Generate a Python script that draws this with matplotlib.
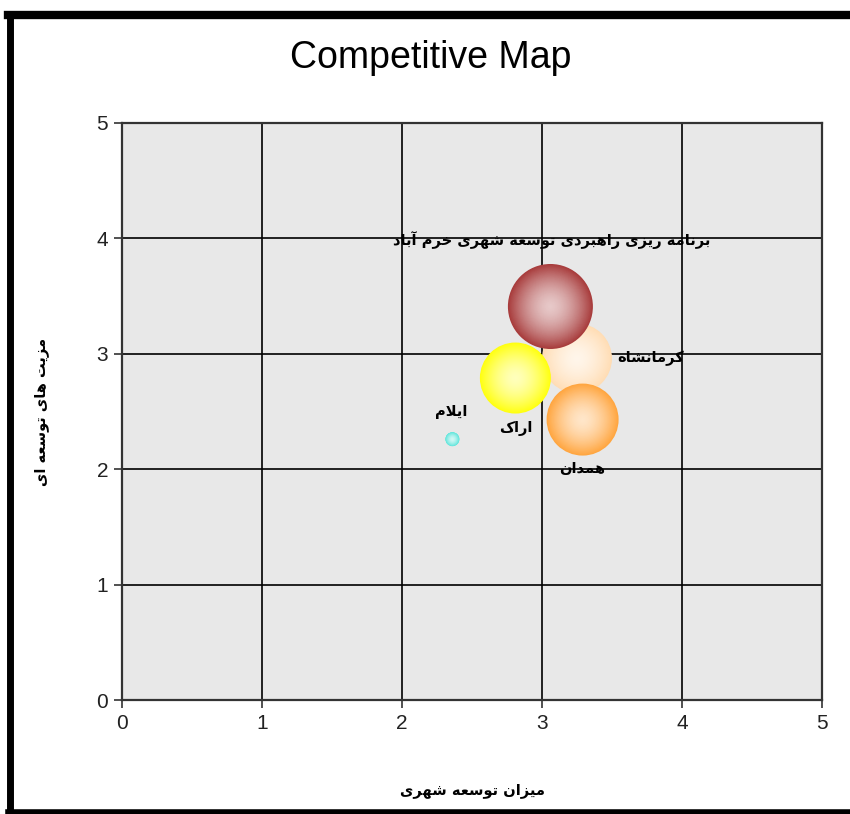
import numpy as np
import matplotlib
matplotlib.use("Agg")
import matplotlib.pyplot as plt
from matplotlib.lines import Line2D
from matplotlib.colors import to_rgb

# data
names = ["کرمانشاه", "اراک", "همدان", "برنامه ریزی راهبردی توسعه شهری خرم آباد", "ایلام"]
x_vals = [3.25, 2.81, 3.29, 3.06, 2.36]
y_vals = [2.96, 2.79, 2.43, 3.41, 2.26]
sizes = [35, 35.5, 36, 42.5, 7]
colors = ["#FFDDB5", "#FFFF10", "#FFA640", "#A83C3C", "#5EE6DC"]
# label offsets in points (dx, dy)
offsets = [(53, 0), (0, -36), (0, -35), (1, 48), (-1, 20)]

ticks = [0, 1, 2, 3, 4, 5]
title = "Competitive Map"
xlabel = "میزان توسعه شهری"
ylabel = "مزیت های توسعه ای"

# minimal arabic/persian shaping (matplotlib has no shaper)
FORMS = {
    "ا": ("\uFE8D", "\uFE8E", None, None),
    "آ": ("\uFE81", "\uFE82", None, None),
    "ب": ("\uFE8F", "\uFE90", "\uFE91", "\uFE92"),
    "ت": ("\uFE95", "\uFE96", "\uFE97", "\uFE98"),
    "خ": ("\uFEA5", "\uFEA6", "\uFEA7", "\uFEA8"),
    "د": ("\uFEA9", "\uFEAA", None, None),
    "ر": ("\uFEAD", "\uFEAE", None, None),
    "ز": ("\uFEAF", "\uFEB0", None, None),
    "س": ("\uFEB1", "\uFEB2", "\uFEB3", "\uFEB4"),
    "ش": ("\uFEB5", "\uFEB6", "\uFEB7", "\uFEB8"),
    "ع": ("\uFEC9", "\uFECA", "\uFECB", "\uFECC"),
    "ل": ("\uFEDD", "\uFEDE", "\uFEDF", "\uFEE0"),
    "م": ("\uFEE1", "\uFEE2", "\uFEE3", "\uFEE4"),
    "ن": ("\uFEE5", "\uFEE6", "\uFEE7", "\uFEE8"),
    "ه": ("\uFEE9", "\uFEEA", "\uFEEB", "\uFEEC"),
    "و": ("\uFEED", "\uFEEE", None, None),
    "ی": ("\uFEEF", "\uFEF0", "\uFEF3", "\uFEF4"),
    "ک": ("\uFB8E", "\uFB8F", "\uFB90", "\uFB91"),
}
LAM_ALEF = {"ا": ("\uFEFB", "\uFEFC"), "آ": ("\uFEF5", "\uFEF6")}


def joins_fwd(c):
    return c in FORMS and FORMS[c][2] is not None


def shape(text):
    out = []
    i, n = 0, len(text)
    while i < n:
        c = text[i]
        if c not in FORMS:
            out.append(c)
            i += 1
            continue
        jp = i > 0 and joins_fwd(text[i - 1])
        if c == "ل" and i + 1 < n and text[i + 1] in LAM_ALEF:
            lig = LAM_ALEF[text[i + 1]]
            out.append(lig[1] if jp else lig[0])
            i += 2
            continue
        jn = joins_fwd(c) and i + 1 < n and text[i + 1] in FORMS
        iso, fin, ini, med = FORMS[c]
        out.append(med if jp and jn else fin if jp else ini if jn else iso)
        i += 1
    return "".join(reversed(out))


fig = plt.figure(figsize=(8.5, 8.14), dpi=100)
ax = fig.add_axes([122 / 850, 1 - 700 / 814, 700 / 850, 577 / 814])
ax.set_facecolor("#E8E8E8")

# shaded bubbles: concentric discs from edge colour to a pale centre
steps = 50
for xv, yv, sz, col in zip(x_vals, y_vals, sizes, colors):
    base = np.array(to_rgb(col))
    for k in range(steps):
        t = 1 - k / steps
        w = 0.72 * (1 - t ** 1.6)
        c = base * (1 - w) + np.ones(3) * w
        r_pt = sz * t * 0.72
        ax.scatter([xv], [yv], s=(2 * r_pt) ** 2, color=c, edgecolors="none", zorder=3)

for name, xv, yv, off in zip(names, x_vals, y_vals, offsets):
    ax.annotate(shape(name), (xv, yv), xytext=off, textcoords="offset points",
                ha="center", va="center", fontsize=10.5, fontweight="bold",
                family="DejaVu Sans", color="black", zorder=5)

ax.set_xlim(0, 5)
ax.set_ylim(0, 5)
ax.set_xticks(ticks)
ax.set_yticks(ticks)
ax.grid(True, color="black", linewidth=1.2)
ax.set_axisbelow(True)
ax.tick_params(direction="out", length=6, width=1.2, color="#333333",
               labelsize=15, labelcolor="#222222", pad=4)
for lab in ax.get_xticklabels() + ax.get_yticklabels():
    lab.set_family("Liberation Sans")
for sp in ax.spines.values():
    sp.set_color("#333333")
    sp.set_linewidth(1.6)

ax.set_xlabel(shape(xlabel), fontsize=10.5, fontweight="bold", family="DejaVu Sans", labelpad=36)
ax.set_ylabel(shape(ylabel), fontsize=10.5, fontweight="bold", family="DejaVu Sans", labelpad=34)

fig.text(431 / 850, 1 - 58 / 814, title, ha="center", va="center",
         fontsize=27, family="Liberation Sans")

# outer frame
fig.add_artist(Line2D([10 / 850, 10 / 850], [2 / 814, 1 - 15 / 814], color="black", lw=5))
fig.add_artist(Line2D([8 / 850, 1], [1 - 15 / 814, 1 - 15 / 814], color="black", lw=6))
fig.add_artist(Line2D([8 / 850, 1], [2 / 814, 2 / 814], color="black", lw=4))

fig.savefig("out.png", dpi=100)
